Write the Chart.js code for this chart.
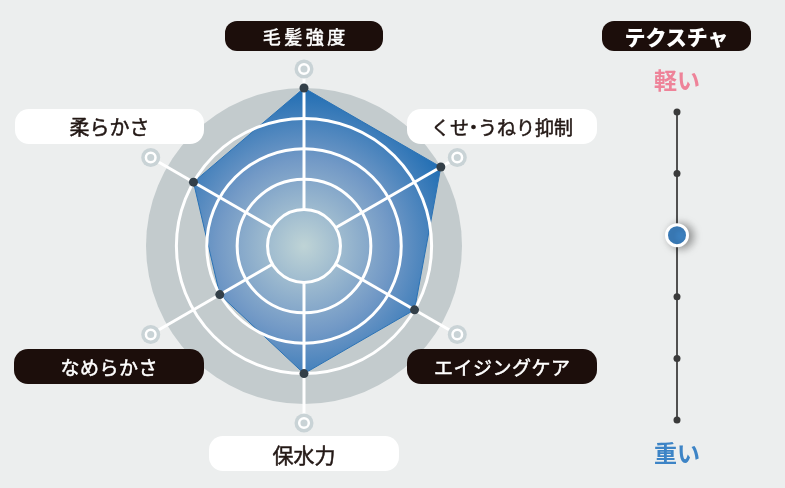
<!DOCTYPE html>
<html lang="ja">
<head>
<meta charset="utf-8">
<script src="https://cdn.jsdelivr.net/npm/chart.js@4.4.1/dist/chart.umd.min.js"></script>
<style>
    html, body { margin: 0; padding: 0; }
    body { width: 785px; height: 488px; background: #eceeee; position: relative; overflow: hidden;
        font-family: "Noto Sans CJK JP", "Noto Sans", sans-serif; }
    canvas { position: absolute; }
    .tag { position: absolute; display: flex; align-items: center; justify-content: center;
        box-sizing: border-box; font-weight: 400; white-space: nowrap;
        -webkit-text-stroke: 0.5px currentColor; }
    .tag.dark { background: #1c0e0b; color: #fff; }
    .tag.light { background: #fff; color: #231815; }
    .tag .dot { margin: 0 -5px; }
    .end { position: absolute; width: 80px; text-align: center; font-weight: 700; font-size: 23px; line-height: 1; }
</style>
</head>
<body>
<canvas id="radar" width="785" height="488" style="left:0;top:0"></canvas>
<canvas id="texture" width="80" height="348" style="left:637px;top:92px"></canvas>
<div class="end" style="left:637px;top:68px;color:#ee8399">軽い</div>
<div class="end" style="left:637px;top:441px;color:#3d84c6">重い</div>

<script>
// radar axes, clockwise from the top
const axisLabels = ['毛髪強度', 'くせ・うねり抑制', 'エイジングケア', '保水力', 'なめらかさ', '柔らかさ'];
const scores = [5, 5, 4, 4, 3, 4];
const gridLevels = [1, 2, 3, 4];
const scoreMax = 5;

// texture slider: 0 = 軽い ... 5 = 重い
const textureTitle = 'テクスチャ';
const textureSteps = [0, 1, 2, 3, 4, 5];
const textureValue = 2;

// label boxes (layout only)
const boxes = [
    { left: 225, top: 21, w: 158, h: 30, dark: true, size: 18, ls: 3.5 },
    { left: 407, top: 109, w: 190, h: 35, dark: false, size: 19, ls: 0 },
    { left: 407, top: 349, w: 190, h: 35, dark: true, size: 19, ls: 0.5 },
    { left: 209, top: 436, w: 190, h: 35, dark: false, size: 21, ls: 0 },
    { left: 14, top: 349, w: 190, h: 35, dark: true, size: 19, ls: 0.5 },
    { left: 15, top: 109, w: 189, h: 35, dark: false, size: 20, ls: 0 },
];

const addTag = (text, b, weight) => {
    const el = document.createElement('div');
    el.className = 'tag ' + (b.dark ? 'dark' : 'light');
    text.split('・').forEach((part, i) => {
        if (i) {
            const dot = document.createElement('span');
            dot.className = 'dot';
            dot.textContent = '・';
            el.appendChild(dot);
        }
        el.appendChild(document.createTextNode(part));
    });
    el.style.cssText = `left:${b.left}px;top:${b.top}px;width:${b.w}px;height:${b.h}px;` +
        `border-radius:${b.h * 0.4}px;font-size:${b.size}px;letter-spacing:${b.ls}px;` +
        `padding-left:${b.ls}px` + (weight ? `;font-weight:${weight};-webkit-text-stroke:0` : '');
    document.body.appendChild(el);
};
axisLabels.forEach((t, i) => addTag(t, boxes[i]));
addTag(textureTitle, { left: 602, top: 21, w: 149, h: 30, dark: true, size: 21, ls: 0 }, 900);

let fillGradient = null;
const radarFill = c => {
    const s = c.chart.scales.r;
    if (!s || !s.drawingArea) return '#2a72b5';
    if (!fillGradient) {
        const R = s.getDistanceFromCenterForValue(scoreMax);
        fillGradient = c.chart.ctx.createRadialGradient(s.xCenter, s.yCenter, 0, s.xCenter, s.yCenter, R);
        fillGradient.addColorStop(0, '#bfd4d6');
        fillGradient.addColorStop(0.55, '#7299c6');
        fillGradient.addColorStop(1, '#1f6db3');
    }
    return fillGradient;
};

const radarFrame = {
    id: 'radarFrame',
    beforeDatasetsDraw: chart => {
        const s = chart.scales.r;
        const ctx = chart.ctx;
        ctx.save();
        ctx.fillStyle = '#c3cbcd';
        ctx.beginPath();
        ctx.arc(s.xCenter, s.yCenter, s.getDistanceFromCenterForValue(scoreMax), 0, Math.PI * 2);
        ctx.fill();
        ctx.restore();
    },
    afterDatasetDraw: (chart, args) => {
        if (args.index !== 1) return;
        const s = chart.scales.r;
        const ctx = chart.ctx;
        ctx.save();
        ctx.strokeStyle = '#fff';
        ctx.lineWidth = 3;
        gridLevels.forEach(v => {
            ctx.beginPath();
            ctx.arc(s.xCenter, s.yCenter, s.getDistanceFromCenterForValue(v), 0, Math.PI * 2);
            ctx.stroke();
        });
        const inner = s.getDistanceFromCenterForValue(gridLevels[0]);
        const outer = s.getDistanceFromCenterForValue(scoreMax) + 19;
        axisLabels.forEach((l, i) => {
            const a = s.getPointPosition(i, inner);
            const b = s.getPointPosition(i, outer);
            ctx.beginPath();
            ctx.moveTo(a.x, a.y);
            ctx.lineTo(b.x, b.y);
            ctx.stroke();
        });
        axisLabels.forEach((l, i) => {
            const b = s.getPointPosition(i, outer);
            ctx.fillStyle = '#c9d3d6';
            ctx.beginPath();
            ctx.arc(b.x, b.y, 9.5, 0, Math.PI * 2);
            ctx.fill();
            ctx.lineWidth = 2.5;
            ctx.beginPath();
            ctx.arc(b.x, b.y, 4.8, 0, Math.PI * 2);
            ctx.stroke();
        });
        ctx.restore();
    }
};

new Chart(document.getElementById('radar').getContext('2d'), {
    type: 'radar',
    data: {
        labels: axisLabels,
        datasets: [{
            data: scores,
            order: 1,
            clip: false,
            fill: false,
            borderColor: 'rgba(0,0,0,0)',
            backgroundColor: 'rgba(0,0,0,0)',
            pointRadius: 4.5,
            pointBorderWidth: 0,
            pointBackgroundColor: '#333f48',
        }, {
            data: scores,
            order: 2,
            clip: false,
            fill: 'start',
            borderWidth: 1,
            borderColor: '#2a72b5',
            backgroundColor: radarFill,
            pointRadius: 0,
        }]
    },
    options: {
        responsive: false,
        animation: false,
        events: [],
        layout: { padding: { left: 146, right: 323, top: 88, bottom: 84 } },
        plugins: {
            legend: { display: false },
            tooltip: { enabled: false },
        },
        scales: {
            r: {
                min: -0.2,
                max: scoreMax,
                ticks: { display: false },
                grid: { display: false },
                angleLines: { display: false },
                pointLabels: { display: false },
            }
        }
    },
    plugins: [radarFrame]
});

const knobShadow = {
    id: 'knobShadow',
    beforeDatasetDraw: (chart, args) => {
        if (args.index !== 1) return;
        const ctx = chart.ctx;
        ctx.save();
        ctx.shadowColor = 'rgba(0,0,0,0.4)';
        ctx.shadowBlur = 10;
        ctx.shadowOffsetX = 4;
        ctx.shadowOffsetY = 1;
    },
    afterDatasetDraw: (chart, args) => {
        if (args.index !== 1) return;
        chart.ctx.restore();
    }
};

new Chart(document.getElementById('texture').getContext('2d'), {
    type: 'scatter',
    data: {
        datasets: [{
            data: textureSteps.map(v => ({ x: 0, y: v })),
            order: 2,
            clip: false,
            showLine: true,
            borderColor: '#505050',
            borderWidth: 2,
            pointRadius: 3.5,
            pointBorderWidth: 0,
            pointBackgroundColor: '#3a3a3a',
        }, {
            data: [{ x: 0, y: textureValue }],
            order: 1,
            clip: false,
            pointRadius: 10.5,
            pointBorderWidth: 3,
            pointBorderColor: '#fff',
            pointBackgroundColor: '#3f86c8',
        }]
    },
    options: {
        responsive: false,
        animation: false,
        events: [],
        layout: { padding: { top: 20, bottom: 20, left: 0, right: 0 } },
        plugins: {
            legend: { display: false },
            tooltip: { enabled: false },
        },
        scales: {
            x: { display: false, min: -1, max: 1 },
            y: { display: false, min: textureSteps[0], max: textureSteps[textureSteps.length - 1], reverse: true },
        }
    },
    plugins: [knobShadow]
});
</script>
</body>
</html>
